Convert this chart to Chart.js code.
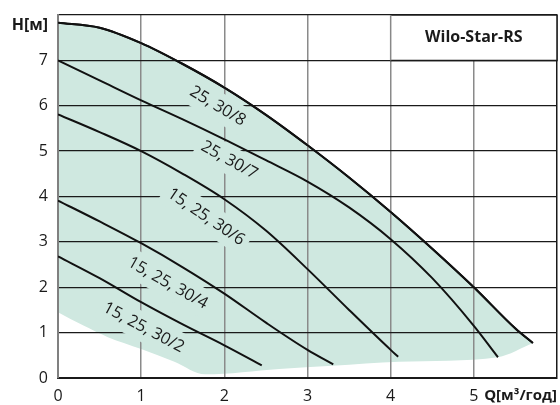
<!DOCTYPE html>
<html>
<head>
<meta charset="utf-8">
<script src="https://cdn.jsdelivr.net/npm/chart.js@4.4.0/dist/chart.umd.min.js"></script>
<style>
  html, body { margin: 0; padding: 0; background: #fff; }
</style>
</head>
<body>
<canvas id="pumpChart" width="560" height="405"></canvas>
<script>
// --- данные кривых (Q в м³/год, H в м) ---
const q8 = [0, 0.5, 1, 1.5, 2, 2.5, 3, 3.5, 4, 4.5, 5, 5.5, 5.71];
const h8 = [7.83, 7.72, 7.38, 6.92, 6.4, 5.8, 5.13, 4.42, 3.66, 2.85, 2.0, 1.09, 0.77];

const q7 = [0, 0.5, 1, 1.5, 2, 2.5, 3, 3.5, 4, 4.5, 5, 5.29];
const h7 = [7.0, 6.56, 6.12, 5.7, 5.26, 4.8, 4.33, 3.76, 3.06, 2.2, 1.15, 0.46];

const q6 = [0, 0.5, 1, 1.5, 2, 2.5, 3, 3.5, 4, 4.09];
const h6 = [5.81, 5.42, 5.0, 4.5, 3.94, 3.25, 2.4, 1.5, 0.62, 0.47];

const q4 = [0, 0.5, 1, 1.5, 2, 2.5, 3, 3.31];
const h4 = [3.91, 3.45, 2.97, 2.44, 1.86, 1.22, 0.62, 0.3];

const q2 = [0, 0.5, 1, 1.5, 2, 2.45];
const h2 = [2.68, 2.2, 1.67, 1.18, 0.72, 0.28];

// нижняя граница рабочей области
const qMin = [0, 0.3, 0.6, 1, 1.4, 1.77, 2.66, 3.3, 4.1, 5.29, 5.71];
const hMin = [1.45, 1.16, 0.9, 0.64, 0.36, 0.08, 0.2, 0.27, 0.36, 0.46, 0.77];

const qTicks = [0, 1, 2, 3, 4, 5];
const hTicks = [0, 1, 2, 3, 4, 5, 6, 7];

// подписи кривых: текст, Q, H, угол
const curveNames = ['25, 30/8', '25, 30/7', '15, 25, 30/6', '15, 25, 30/4', '15, 25, 30/2'];
const nameQ = [1.92, 2.06, 1.78, 1.32, 1.03];
const nameH = [5.99, 4.8, 3.55, 2.09, 1.11];
const nameAngle = [31, 29, 34, 29.5, 28];

const FILL = '#cfe8e0';
const FONT = '"Open Sans", "Noto Sans", sans-serif';

const pts = (qs, hs) => qs.map((q, i) => ({ x: q, y: hs[i] }));

const curve = (qs, hs) => ({
    data: pts(qs, hs),
    borderColor: '#111',
    borderWidth: 2,
    pointRadius: 0,
    fill: false,
    cubicInterpolationMode: 'monotone'
});

// подписи, фон под подписями и блок с названием
const overlayPlugin = {
    id: 'overlay',
    afterDraw(chart) {
        const ctx = chart.ctx;
        const xs = chart.scales.x;
        const ys = chart.scales.y;
        const area = chart.chartArea;

        ctx.save();
        ctx.font = '16.5px ' + FONT;
        curveNames.forEach((t, i) => {
            const w = ctx.measureText(t).width;
            ctx.save();
            ctx.translate(xs.getPixelForValue(nameQ[i]), ys.getPixelForValue(nameH[i]));
            ctx.rotate(nameAngle[i] * Math.PI / 180);
            ctx.fillStyle = FILL;
            ctx.fillRect(-w / 2 - 5, -14, w + 10, 28);
            ctx.restore();
        });

        // линии поверх фона подписей
        ctx.save();
        ctx.beginPath();
        ctx.rect(area.left, area.top, area.right - area.left, area.bottom - area.top);
        ctx.clip();
        for (let i = 1; i < chart.data.datasets.length; i++) {
            chart.getDatasetMeta(i).dataset.draw(ctx, area);
        }
        ctx.restore();

        ctx.fillStyle = '#1a1a1a';
        ctx.textAlign = 'center';
        ctx.textBaseline = 'middle';
        curveNames.forEach((t, i) => {
            ctx.save();
            ctx.translate(xs.getPixelForValue(nameQ[i]), ys.getPixelForValue(nameH[i]));
            ctx.rotate(nameAngle[i] * Math.PI / 180);
            ctx.fillText(t, 0, 0);
            ctx.restore();
        });

        // блок Wilo-Star-RS
        const bx = xs.getPixelForValue(4);
        const by = ys.getPixelForValue(7);
        ctx.fillStyle = '#fff';
        ctx.fillRect(bx, area.top, area.right - bx, by - area.top);
        ctx.lineWidth = 1.5;
        ctx.strokeStyle = '#1a1a1a';
        ctx.beginPath();
        ctx.moveTo(bx, area.top);
        ctx.lineTo(area.right, area.top);
        ctx.lineTo(area.right, by);
        ctx.lineTo(bx, by);
        ctx.stroke();
        ctx.strokeStyle = '#888';
        ctx.beginPath();
        ctx.moveTo(bx, area.top);
        ctx.lineTo(bx, by);
        ctx.stroke();

        ctx.fillStyle = '#1a1a1a';
        ctx.font = 'bold 16px ' + FONT;
        ctx.fillText('Wilo-Star-RS', (bx + area.right) / 2, (area.top + by) / 2);

        // подписи осей
        ctx.textBaseline = 'alphabetic';
        ctx.textAlign = 'right';
        ctx.font = 'bold 16px ' + FONT;
        ctx.fillText('H[м]', 48, 30);
        ctx.font = 'bold 15px ' + FONT;
        ctx.fillText('Q[м³/год]', 557, 400);
        ctx.restore();
    }
};

new Chart(document.getElementById('pumpChart'), {
    type: 'line',
    data: {
        datasets: [
            {
                data: pts(qMin, hMin),
                borderWidth: 0,
                borderColor: 'rgba(0,0,0,0)',
                pointRadius: 0,
                fill: false,
                cubicInterpolationMode: 'monotone'
            },
            Object.assign(curve(q8, h8), { fill: '-1', backgroundColor: FILL }),
            curve(q7, h7),
            curve(q6, h6),
            curve(q4, h4),
            curve(q2, h2)
        ]
    },
    options: {
        responsive: false,
        animation: false,
        devicePixelRatio: 1,
        layout: { padding: { top: 15, right: 3, left: 0, bottom: 0 } },
        plugins: {
            legend: { display: false },
            tooltip: { enabled: false }
        },
        scales: {
            x: {
                type: 'linear',
                min: 0,
                max: 6,
                afterFit: s => { s.height = 27; s.paddingLeft = 0; s.paddingRight = 0; },
                afterBuildTicks: s => { s.ticks = qTicks.concat([6]).map(v => ({ value: v })); },
                ticks: {
                    autoSkip: false,
                    maxRotation: 0,
                    padding: 9,
                    color: '#1a1a1a',
                    font: { family: FONT, size: 16 },
                    callback: v => (qTicks.includes(v) ? String(v) : '')
                },
                grid: {
                    z: 1,
                    drawTicks: false,
                    lineWidth: 1.5,
                    color: c => (c.tick && c.tick.value === 6 ? '#1a1a1a' : '#8a8a8a')
                },
                border: { z: 1, color: '#1a1a1a', width: 2 }
            },
            y: {
                min: 0,
                max: 8,
                afterFit: s => { s.width = 58; s.paddingTop = 0; s.paddingBottom = 0; },
                afterBuildTicks: s => { s.ticks = hTicks.concat([8]).map(v => ({ value: v })); },
                ticks: {
                    autoSkip: false,
                    padding: 10,
                    color: '#1a1a1a',
                    font: { family: FONT, size: 16 },
                    callback: v => (hTicks.includes(v) ? String(v) : '')
                },
                grid: {
                    z: 1,
                    drawTicks: false,
                    lineWidth: 1.3,
                    color: '#1a1a1a'
                },
                border: { z: 1, color: '#808080', width: 2 }
            }
        }
    },
    plugins: [overlayPlugin]
});
</script>
</body>
</html>
